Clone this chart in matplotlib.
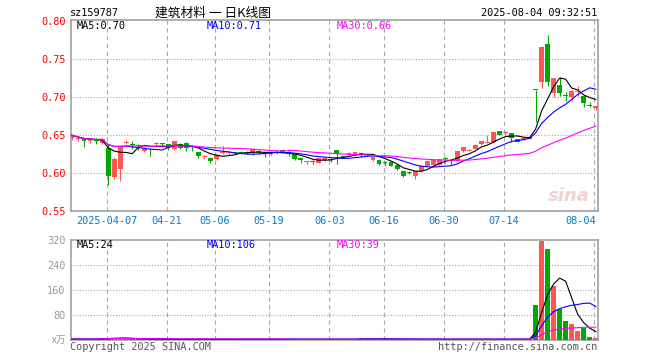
"""
Daily K-line chart for sz159787 (building materials ETF) with volume panel.
"""
import numpy as np
import pandas as pd
import matplotlib
matplotlib.use("Agg")
import matplotlib.pyplot as plt

# one entry per trading day, left to right
opens = [0.646, 0.645, 0.646, 0.642, 0.643, 0.640, 0.633, 0.595, 0.606, 0.640,
         0.638, 0.637, 0.629, 0.631, 0.638, 0.639, 0.638, 0.632, 0.639, 0.640,
         0.6355, 0.6275, 0.621, 0.620, 0.619, 0.627, 0.6265, 0.627, 0.628, 0.627,
         0.628, 0.628, 0.628, 0.6265, 0.627, 0.631, 0.6285, 0.625, 0.6195, 0.6145,
         0.616, 0.6135, 0.617, 0.6185, 0.630, 0.622, 0.6245, 0.624, 0.6258, 0.6238,
         0.617, 0.618, 0.614, 0.615, 0.6115, 0.6025, 0.6015, 0.597, 0.6025, 0.610,
         0.6115, 0.6115, 0.6195, 0.6165, 0.6158, 0.629, 0.6298, 0.632, 0.638, 0.6405,
         0.6408, 0.655, 0.653, 0.6526, 0.6447, 0.644, 0.645, 0.7095, 0.7205, 0.770,
         0.705, 0.7168, 0.702, 0.7005, 0.7072, 0.7013, 0.6890, 0.6855]
highs = [0.652, 0.648, 0.647, 0.645, 0.646, 0.647, 0.638, 0.621, 0.637, 0.644,
         0.643, 0.639, 0.635, 0.633, 0.641, 0.640, 0.639, 0.643, 0.640, 0.641,
         0.6375, 0.628, 0.6245, 0.621, 0.626, 0.6365, 0.628, 0.6285, 0.629, 0.629,
         0.633, 0.630, 0.6285, 0.628, 0.630, 0.632, 0.629, 0.626, 0.620, 0.6165,
         0.618, 0.620, 0.620, 0.621, 0.631, 0.623, 0.628, 0.628, 0.627, 0.626,
         0.622, 0.6185, 0.616, 0.616, 0.612, 0.603, 0.603, 0.603, 0.610, 0.616,
         0.6175, 0.619, 0.6215, 0.619, 0.6295, 0.635, 0.632, 0.638, 0.643, 0.6504,
         0.6545, 0.6555, 0.6555, 0.653, 0.645, 0.6465, 0.648, 0.7095, 0.767, 0.7826,
         0.7258, 0.727, 0.7075, 0.7096, 0.715, 0.7018, 0.6938, 0.6888]
lows = [0.644, 0.642, 0.635, 0.640, 0.639, 0.639, 0.584, 0.593, 0.590, 0.639,
        0.632, 0.631, 0.628, 0.623, 0.636, 0.634, 0.631, 0.630, 0.632, 0.629,
        0.629, 0.620, 0.619, 0.614, 0.618, 0.626, 0.624, 0.625, 0.625, 0.625,
        0.624, 0.625, 0.622, 0.624, 0.626, 0.628, 0.623, 0.618, 0.613, 0.612,
        0.6125, 0.613, 0.616, 0.6155, 0.612, 0.620, 0.624, 0.623, 0.622, 0.623,
        0.616, 0.611, 0.610, 0.609, 0.604, 0.595, 0.599, 0.5925, 0.602, 0.609,
        0.611, 0.611, 0.614, 0.6105, 0.615, 0.6285, 0.629, 0.6315, 0.6375, 0.640,
        0.640, 0.650, 0.650, 0.6416, 0.641, 0.6435, 0.6445, 0.667, 0.7126, 0.7153,
        0.700, 0.702, 0.695, 0.6952, 0.702, 0.6873, 0.6878, 0.6833]
closes = [0.650, 0.6455, 0.642, 0.6425, 0.6425, 0.645, 0.597, 0.619, 0.635, 0.641,
          0.6375, 0.6365, 0.6335, 0.630, 0.639, 0.6385, 0.6335, 0.642, 0.6335, 0.6335,
          0.635, 0.6225, 0.6215, 0.616, 0.6245, 0.6275, 0.627, 0.6265, 0.6265, 0.6265,
          0.6318, 0.6275, 0.6255, 0.626, 0.6275, 0.6285, 0.626, 0.619, 0.617, 0.615,
          0.6155, 0.6195, 0.6195, 0.618, 0.626, 0.621, 0.6265, 0.6275, 0.6252, 0.6245,
          0.621, 0.612, 0.6135, 0.610, 0.605, 0.596, 0.601, 0.6025, 0.609, 0.6158,
          0.617, 0.6188, 0.619, 0.616, 0.629, 0.6342, 0.6305, 0.6373, 0.6425, 0.641,
          0.654, 0.6505, 0.6535, 0.646, 0.6416, 0.646, 0.6473, 0.709, 0.7666, 0.720,
          0.7255, 0.7055, 0.7015, 0.7083, 0.7076, 0.6926, 0.6886, 0.6886]
# volume in 万
volumes = [2, 2, 1.5, 2, 2, 6, 7, 6, 5, 3,
           2, 1.5, 1.5, 1.5, 1.5, 1.5, 1.5, 1.5, 1.5, 1.5,
           1.5, 1.5, 1.5, 1.5, 1.5, 1.5, 1.5, 1.5, 1.5, 1.5,
           1.5, 1.5, 1.5, 1.5, 1.5, 1.5, 1.5, 1.5, 1.5, 1.5,
           1.5, 1.5, 1.5, 1.5, 1.5, 1.5, 1.5, 1.5, 4, 4,
           1.5, 1.5, 4, 1.5, 1.5, 1.5, 1.5, 1.5, 1.5, 1.5,
           1.5, 1.5, 1.5, 1.5, 1.5, 1.5, 1.5, 1.5, 1.5, 1.5,
           1.5, 1.5, 1.5, 1.5, 1.5, 1.5, 1.5, 112, 317, 290,
           172, 98, 61, 50, 27, 38, 9, 4]

tick_idx = [6, 16, 24, 33, 43, 52, 62, 72, 87]
tick_labels = ["2025-04-07", "04-21", "05-06", "05-19", "06-03",
               "06-16", "06-30", "07-14", "08-04"]
price_ticks = [0.55, 0.60, 0.65, 0.70, 0.75, 0.80]
vol_ticks = [80, 160, 240, 320]

UP = "#ff5555"
DOWN = "#00a800"
GRID = "#aaaaaa"
MONO = "DejaVu Sans Mono"
CJK = ["Noto Sans CJK SC", "DejaVu Sans"]
MA_COLORS = {5: "#000000", 10: "#0000ff", 30: "#ff00ff"}

df = pd.DataFrame({"open": opens, "high": highs, "low": lows,
                   "close": closes, "volume": volumes})
x = np.arange(len(df))
colors = np.where(df["close"] > df["open"], UP, DOWN)

W, H = 660, 360
fig = plt.figure(figsize=(W / 100, H / 100), dpi=100)


def px_axes(left, top, right, bottom):
    return fig.add_axes([left / W, 1 - bottom / H, (right - left) / W, (bottom - top) / H])


def ftext(xp, yp, s, **kw):
    fig.text(xp / W, 1 - yp / H, s, **kw)


ax = px_axes(71, 20, 598, 211.3)
axv = px_axes(71, 240, 598, 339.7)

for a in (ax, axv):
    a.set_xlim(-0.17, 87.37)
    a.set_xticks([])
    for s in a.spines.values():
        s.set_color("#999999")
        s.set_linewidth(1.1)
    for t in tick_idx:
        a.axvline(t - 0.25, color=GRID, lw=0.8, ls=(0, (4, 3)), zorder=0)

# price panel
ax.set_ylim(0.55, 0.8017)
for p in price_ticks[1:-1]:
    ax.axhline(p, color=GRID, lw=0.8, ls=(0, (1, 1.5)), zorder=0)
ax.set_yticks(price_ticks)
ax.set_yticklabels([f"{p:.2f}" for p in price_ticks], color="#ff0000",
                   fontfamily=MONO, fontsize=7.4)
ax.tick_params(axis="y", length=0, pad=4)

ax.vlines(x, df["low"], df["high"], colors=colors, lw=0.8, zorder=2)
body_lo = np.minimum(df["open"], df["close"])
body_h = np.maximum((df["close"] - df["open"]).abs(), 0.0013)
ax.bar(x, body_h, bottom=body_lo, width=0.8, color=colors, lw=0, zorder=3)

for n, c in MA_COLORS.items():
    ax.plot(x, df["close"].rolling(n, min_periods=1).mean(), color=c, lw=0.8, zorder=4)

ax.text(0.7, 0.794, "MA5:0.70", color="black", fontfamily=MONO, fontsize=7.4, va="center")
ax.text(22.3, 0.794, "MA10:0.71", color="#0000ff", fontfamily=MONO, fontsize=7.4, va="center")
ax.text(43.9, 0.794, "MA30:0.66", color="#ff00ff", fontfamily=MONO, fontsize=7.4, va="center")

# sina watermark
ax.text(0.985, 0.08, "sina", transform=ax.transAxes, ha="right", va="center",
        fontsize=13, fontweight="bold", fontstyle="italic", color="#f0d4d4", zorder=1)

for t, lab in zip(tick_idx, tick_labels):
    ha = "right" if t == tick_idx[-1] else "center"
    ax.text(t - 0.25 + (0.3 if ha == "right" else 0), -0.051, lab, transform=ax.get_xaxis_transform(),
            ha=ha, va="center", color="#0a7acc", fontfamily=MONO, fontsize=7.4)

# volume panel
axv.set_ylim(0, 320)
for v in vol_ticks[:-1]:
    axv.axhline(v, color=GRID, lw=0.8, ls=(0, (1, 1.5)), zorder=0)
axv.set_yticks(vol_ticks)
axv.set_yticklabels([str(v) for v in vol_ticks], color="#999999", fontfamily=MONO, fontsize=7.4)
axv.tick_params(axis="y", length=0, pad=4)
axv.bar(x, df["volume"], width=0.82, color=colors, lw=0, zorder=3)
for n, c in MA_COLORS.items():
    axv.plot(x, df["volume"].rolling(n, min_periods=1).mean(), color=c, lw=0.8, zorder=4)

axv.text(0.7, 303, "MA5:24", color="black", fontfamily=MONO, fontsize=7.4, va="center")
axv.text(22.3, 303, "MA10:106", color="#0000ff", fontfamily=MONO, fontsize=7.4, va="center")
axv.text(43.9, 303, "MA30:39", color="#ff00ff", fontfamily=MONO, fontsize=7.4, va="center")

# header and footer
ftext(70, 13, "sz159787", fontfamily=MONO, fontsize=7.4, va="center")
ftext(213, 13, "建筑材料 一 日K线图", fontfamily=CJK, fontsize=9.2, va="center", ha="center")
ftext(597, 13, "2025-08-04 09:32:51", fontfamily=MONO, fontsize=7.4, va="center", ha="right")
ftext(66, 340, "x万", fontfamily=CJK, fontsize=7, va="center", ha="right", color="#999999")
ftext(70, 347, "Copyright 2025 SINA.COM", fontfamily=MONO, fontsize=7.4, va="center", color="#555555")
ftext(597, 347, "http://finance.sina.com.cn", fontfamily=MONO, fontsize=7.4, va="center",
      ha="right", color="#555555")

fig.savefig("out.png", dpi=100, facecolor="white")
